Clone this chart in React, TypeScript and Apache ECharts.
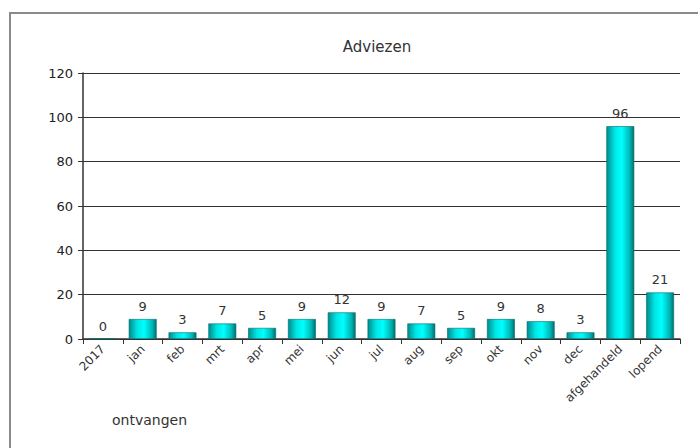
import React, { useEffect, useRef } from "react";
import * as echarts from "echarts";

const categories = ["2017", "jan", "feb", "mrt", "apr", "mei", "jun", "jul", "aug", "sep", "okt", "nov", "dec", "afgehandeld", "lopend"];
const values = [0, 9, 3, 7, 5, 9, 12, 9, 7, 5, 9, 8, 3, 96, 21];
const yTicks = { min: 0, max: 120, interval: 20 };
const titleText = "Adviezen";
const footText = "ontvangen";

export default function App() {
  const ref = useRef<HTMLDivElement>(null);
  useEffect(() => {
    if (!ref.current) return;
    const chart = echarts.init(ref.current, null, { renderer: "svg" });
    const font = "DejaVu Sans, Verdana, sans-serif";
    chart.setOption({
      animation: false,
      backgroundColor: "#ffffff",
      title: {
        text: titleText,
        left: 372,
        top: 34,
        textAlign: "center",
        textStyle: { fontFamily: font, fontSize: 15, fontWeight: "normal", color: "#333" },
      },
      graphic: [
        {
          type: "rect",
          shape: { x: 10, y: 13, width: 700, height: 450 },
          style: { fill: "none", stroke: "#8a8a8a", lineWidth: 2 },
          silent: true,
        },
        {
          type: "text",
          left: 112,
          top: 413,
          style: { text: footText, fontFamily: font, fontSize: 14, fill: "#333" },
        },
      ],
      grid: { left: 83, right: 18, top: 73, bottom: 109 },
      xAxis: {
        type: "category",
        data: categories,
        axisLine: { lineStyle: { color: "#333", width: 1.5 } },
        axisTick: { show: true, length: 5, lineStyle: { color: "#333" } },
        axisLabel: {
          rotate: 45,
          interval: 0,
          fontFamily: font,
          fontSize: 12,
          color: "#333",
          margin: 8,
        },
      },
      yAxis: {
        type: "value",
        min: yTicks.min,
        max: yTicks.max,
        interval: yTicks.interval,
        axisLine: { show: true, lineStyle: { color: "#333", width: 1.5 } },
        axisTick: { show: true, length: 5, inside: false, lineStyle: { color: "#333" } },
        splitLine: { show: true, lineStyle: { color: "#333", width: 1.2 } },
        axisLabel: { fontFamily: font, fontSize: 13, color: "#222", margin: 10 },
      },
      series: [
        {
          type: "bar",
          data: values,
          barCategoryGap: "30%",
          itemStyle: {
            borderColor: "#006a6a",
            borderWidth: 0.6,
            color: new echarts.graphic.LinearGradient(0, 0, 1, 0, [
              { offset: 0, color: "#008b8b" },
              { offset: 0.3, color: "#00e5e5" },
              { offset: 0.55, color: "#00ffff" },
              { offset: 0.85, color: "#00b5b5" },
              { offset: 1, color: "#006f6f" },
            ]),
          },
          label: {
            show: true,
            position: "top",
            distance: 6,
            fontFamily: font,
            fontSize: 13,
            color: "#333",
          },
        },
      ],
    });
    return () => chart.dispose();
  }, []);
  return <div ref={ref} style={{ width: 698, height: 448, position: "absolute", left: 0, top: 0 }} />;
}
